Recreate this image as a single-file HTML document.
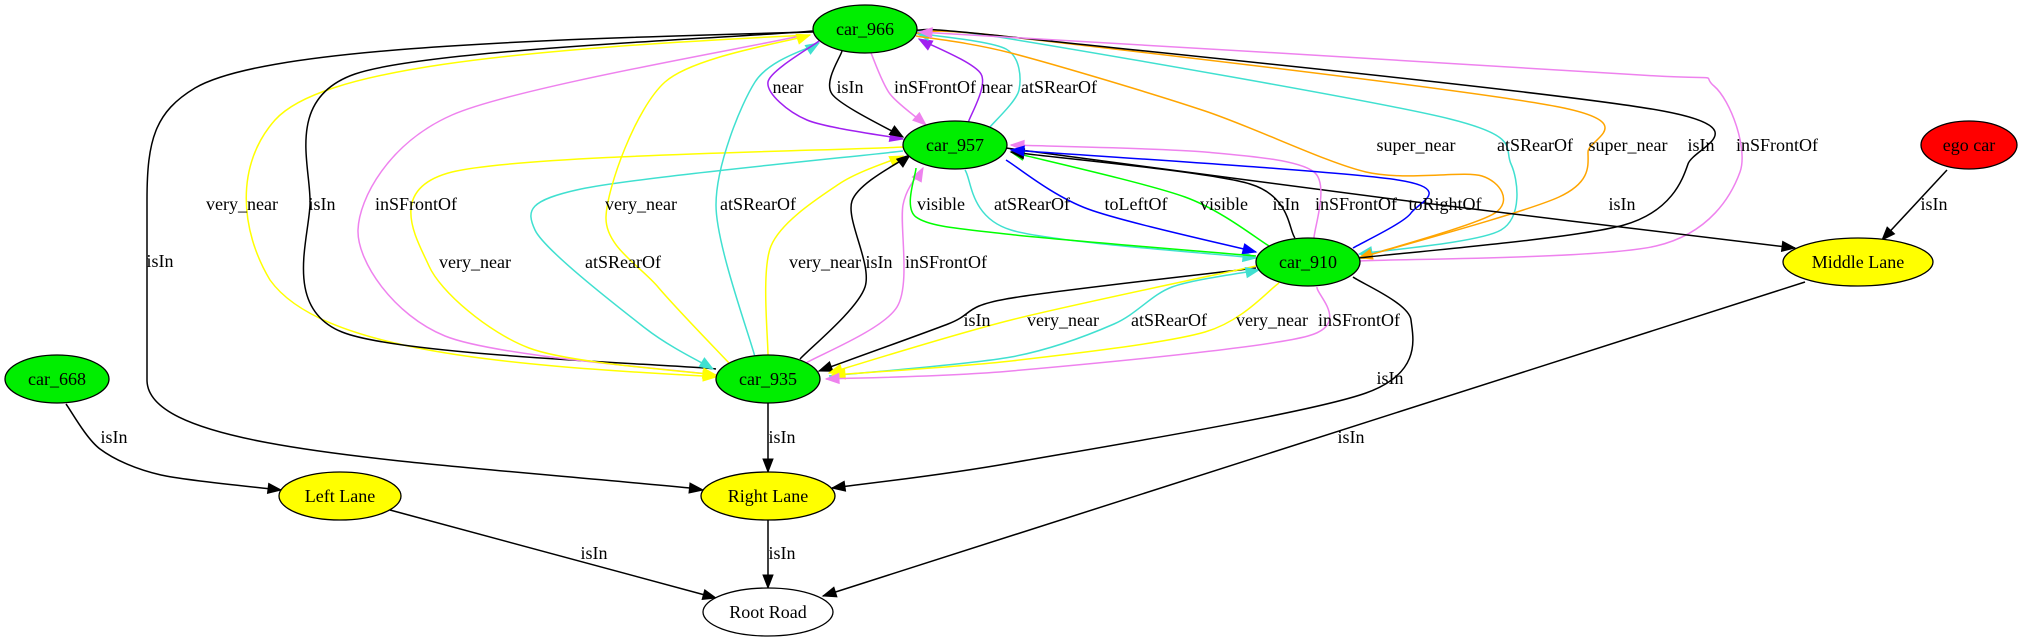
<!DOCTYPE html>
<html><head><meta charset="utf-8"><style>
html,body{margin:0;padding:0;background:#fff;width:2023px;height:639px;overflow:hidden}
svg text{font-family:"Liberation Serif",serif;font-size:18px;fill:#000}
</style></head><body>
<svg id="g" width="2023" height="639" viewBox="0 0 2023 639" xmlns="http://www.w3.org/2000/svg">
<g id="edges">
<path d="M813,32 C500,40 260,50 195,88 C155,112 147,140 147,200 L147,380 C147,450 400,460 690,488" fill="none" stroke="#000" stroke-width="1.5"/>
<polygon points="703,490 690,483 689,493" fill="#000" stroke="#000"/>
<path d="M810,35 C500,50 320,70 275,120 C235,165 240,230 270,280 C320,350 500,365 703,376" fill="none" stroke="#ffff00" stroke-width="1.5"/>
<polygon points="716,377 703,371 703,381" fill="#ffff00" stroke="#ffff00"/>
</g>
<g id="nodes">
<ellipse cx="865" cy="29" rx="52" ry="24" fill="#00ee00" stroke="#000" stroke-width="1.3"/>
<text x="865" y="35" text-anchor="middle">car_966</text>
<ellipse cx="955" cy="145" rx="52" ry="24" fill="#00ee00" stroke="#000" stroke-width="1.3"/>
<text x="955" y="151" text-anchor="middle">car_957</text>
<ellipse cx="768" cy="379" rx="52" ry="24" fill="#00ee00" stroke="#000" stroke-width="1.3"/>
<text x="768" y="385" text-anchor="middle">car_935</text>
<ellipse cx="57" cy="379" rx="52" ry="24" fill="#00ee00" stroke="#000" stroke-width="1.3"/>
<text x="57" y="385" text-anchor="middle">car_668</text>
<ellipse cx="1308" cy="262" rx="52" ry="24" fill="#00ee00" stroke="#000" stroke-width="1.3"/>
<text x="1308" y="268" text-anchor="middle">car_910</text>
<ellipse cx="1969" cy="145" rx="48" ry="24" fill="#ff0000" stroke="#000" stroke-width="1.3"/>
<text x="1969" y="151" text-anchor="middle">ego car</text>
<ellipse cx="1858" cy="262" rx="75" ry="24" fill="#ffff00" stroke="#000" stroke-width="1.3"/>
<text x="1858" y="268" text-anchor="middle">Middle Lane</text>
<ellipse cx="340" cy="496" rx="61" ry="24" fill="#ffff00" stroke="#000" stroke-width="1.3"/>
<text x="340" y="502" text-anchor="middle">Left Lane</text>
<ellipse cx="768" cy="496" rx="67" ry="24" fill="#ffff00" stroke="#000" stroke-width="1.3"/>
<text x="768" y="502" text-anchor="middle">Right Lane</text>
<ellipse cx="768" cy="612" rx="65" ry="24" fill="#fff" stroke="#000" stroke-width="1.3"/>
<text x="768" y="618" text-anchor="middle">Root Road</text>
</g>
<g id="labels">
<text x="160" y="267" text-anchor="middle">isIn</text>
<text x="242" y="210" text-anchor="middle">very_near</text>
</g>
</svg>
<script>
var K='#000',Y='#ffff00',V='#ee82ee',C='#40e0d0',P='#a020f0',O='#ffa500',B='#0000ff',G='#00ff00';
var E=[
[K,[[716,369],[342,332],[310,205],[355,74],[813,31]],0,'isIn',322,204],
[V,[[716,375],[445,336],[358,230],[452,115],[800,36]],0,'inSFrontOf',416,204],
[Y,[[903,147],[452,172],[429,266],[529,348],[716,375]],1,'very_near',475,262],
[C,[[903,151],[581,189],[535,230],[645,328],[713,369]],1,'atSRearOf',623,262],
[Y,[[729,363],[658,287],[606,217],[665,82],[810,35]],1,'very_near',641,204],
[C,[[755,357],[716,205],[755,82],[819,43]],1,'atSRearOf',758,204],
[Y,[[768,357],[771,246],[839,184],[903,156]],1,'very_near',825,262],
[K,[[800,359],[865,287],[852,201],[910,155]],1,'isIn',879,262],
[V,[[806,363],[897,307],[903,205],[923,168]],1,'inSFrontOf',946,262],
[P,[[819,41],[768,82],[807,120],[903,139]],1,'near',788,87],
[P,[[968,123],[981,74],[919,39]],1,'near',997,87],
[K,[[842,51],[832,94],[903,137]],1,'isIn',850,87],
[V,[[871,53],[890,94],[926,125]],1,'inSFrontOf',935,87],
[C,[[990,127],[1019,90],[1006,49],[916,33]],1,'atSRearOf',1059,87],
[O,[[916,36],[1011,53],[1205,111],[1366,172],[1482,176],[1495,213],[1359,258]],1,'super_near',1416,145],
[C,[[916,31],[1011,39],[1450,119],[1511,164],[1501,230],[1359,254]],1,'atSRearOf',1535,145],
[O,[[916,33],[1011,37],[1559,107],[1588,152],[1559,197],[1359,258]],1,'super_near',1628,145],
[K,[[916,30],[1011,37],[1663,111],[1688,164],[1624,225],[1359,258]],0,'isIn',1701,145],
[V,[[1359,261],[1656,246],[1740,172],[1714,86],[1624,74],[919,32]],1,'inSFrontOf',1777,145],
[K,[[1006,148],[1400,200],[1795,248]],1,'isIn',1622,204],
[K,[[1947,170],[1882,240]],1,'isIn',1934,204],
[K,[[1805,282],[823,596]],1,'isIn',1351,437],
[K,[[1353,277],[1411,320],[1366,393],[1011,463],[832,488]],1,'isIn',1390,378],
[K,[[1256,268],[1006,299],[948,324],[819,371]],1,'isIn',977,320],
[Y,[[1256,266],[1011,320],[829,373]],1,'very_near',1063,320],
[C,[[829,376],[1011,357],[1114,324],[1172,287],[1259,270]],1,'atSRearOf',1169,320],
[Y,[[1279,283],[1205,332],[1011,361],[832,375]],1,'very_near',1272,320],
[V,[[1317,287],[1308,336],[1011,371],[826,379]],1,'inSFrontOf',1359,320],
[C,[[965,170],[1011,230],[1256,258]],1,'atSRearOf',1032,204],
[B,[[1006,160],[1088,209],[1256,252]],1,'toLeftOf',1136,204],
[G,[[1269,246],[1185,197],[1011,152]],1,'visible',1224,204],
[G,[[916,168],[916,217],[1006,234],[1256,256]],0,'visible',941,204],
[K,[[1295,238],[1250,184],[1011,152]],1,'isIn',1286,204],
[V,[[1314,238],[1314,172],[1205,152],[1011,145]],1,'inSFrontOf',1356,204],
[B,[[1353,248],[1411,213],[1398,180],[1011,150]],1,'toRightOf',1445,204],
[K,[[768,403],[768,472]],1,'isIn',782,437],
[K,[[768,520],[768,588]],1,'isIn',782,553],
[K,[[390,510],[716,598]],1,'isIn',594,553],
[K,[[66,404],[100,449],[161,475],[281,490]],1,'isIn',114,437]
];
var NS='http://www.w3.org/2000/svg',eg=document.getElementById('edges'),lg=document.getElementById('labels');
function cr(p){var d='M'+p[0][0]+','+p[0][1];if(p.length==2)return d+'L'+p[1][0]+','+p[1][1];
var k=7;
for(var i=0;i<p.length-1;i++){var a=p[i-1]||p[i],b=p[i],c=p[i+1],e=p[i+2]||c;
d+='C'+(b[0]+(c[0]-a[0])/k)+','+(b[1]+(c[1]-a[1])/k)+' '+(c[0]-(e[0]-b[0])/k)+','+(c[1]-(e[1]-b[1])/k)+' '+c[0]+','+c[1];}return d;}
E.forEach(function(e){var p=e[1],path=document.createElementNS(NS,'path');
path.setAttribute('d',cr(p));path.setAttribute('fill','none');path.setAttribute('stroke',e[0]);path.setAttribute('stroke-width','1.5');eg.appendChild(path);
if(e[2]){var n=p.length,t=p[n-1],s=p[n-2];var dx=t[0]-s[0],dy=t[1]-s[1];
var L=Math.hypot(dx,dy);dx/=L;dy/=L;var bx=t[0]-dx*13,by=t[1]-dy*13;
var poly=document.createElementNS(NS,'polygon');
poly.setAttribute('points',t[0]+','+t[1]+' '+(bx-dy*5)+','+(by+dx*5)+' '+(bx+dy*5)+','+(by-dx*5));
poly.setAttribute('fill',e[0]);poly.setAttribute('stroke',e[0]);eg.appendChild(poly);}
var tx=document.createElementNS(NS,'text');tx.setAttribute('x',e[4]);tx.setAttribute('y',e[5]+6);tx.setAttribute('text-anchor','middle');tx.textContent=e[3];lg.appendChild(tx);});
</script>
</body></html>
